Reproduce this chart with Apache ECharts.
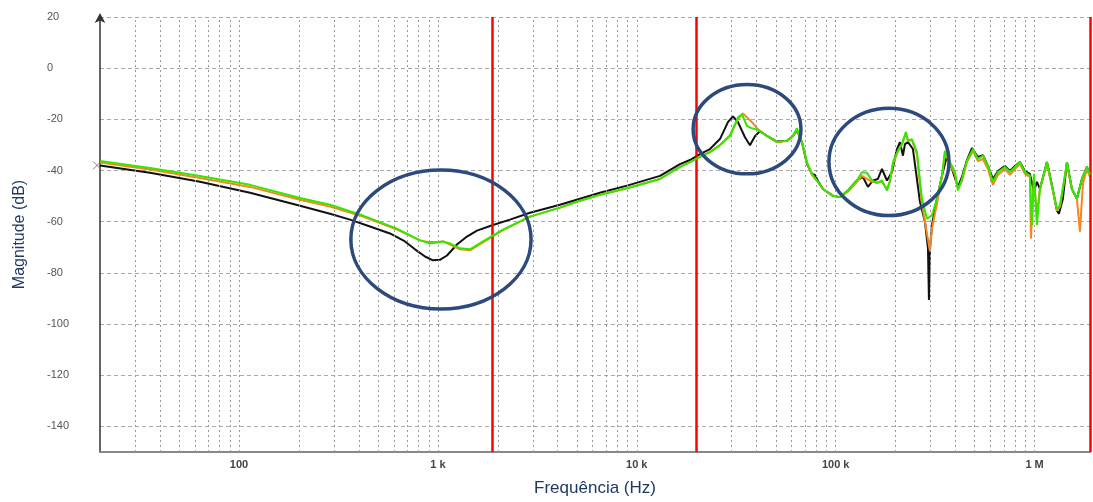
<!DOCTYPE html>
<html>
<head>
<meta charset="utf-8">
<script src="https://cdn.jsdelivr.net/npm/echarts@6/dist/echarts.min.js"></script>
<style>html,body{margin:0;padding:0;background:#fff;}#c{width:1093px;height:502px;}</style>
</head>
<body>
<div id="c"></div>
<script>
// ---- data (frequency in Hz, magnitude in dB) ----
const blackFreq = [20,35.7,63.6,113.6,202.6,286.7,361.4,455.5,574.2,683.2,766.9,861,944.6,1024,1111,1247,1400,1572,1892,2303,2904,4110,5180,6530,9030,13080,16490,18510,20780,23330,26190,28730,30440,32270,34990,37070,39280,41630,45120,50670,56890,60990,63880,67690,71720,76000,78680,81460,86300,96900,105100,115300,127900,137100,145300,153900,163100,170900,181100,191900,203300,210400,217900,223000,230900,244600,265300,281100,291100,294400,297900,304800,323000,342200,362600,384300,411900,431400,457100,484300,519200,550100,582900,617500,654600,710000,752000,796900,844300,894400,948000,992900,1027800,1064000,1154000,1223000,1296000,1326000,1388000,1455000,1541000,1633000,1731000,1834000,1899000];
const blackDb = [-38.0,-40.9,-44.4,-48.7,-53.8,-56.9,-59.2,-61.9,-64.6,-67.7,-70.8,-73.6,-75.1,-74.9,-73.2,-68.9,-65.8,-63.5,-61.3,-59.2,-56.5,-53.4,-51.0,-48.7,-45.8,-42.1,-37.5,-35.9,-33.6,-31.6,-27.7,-21.1,-18.8,-21.1,-27.0,-30.1,-26.6,-24.6,-26.5,-28.7,-28.4,-26.5,-24.3,-28.9,-37.5,-41.3,-41.7,-44.1,-47.2,-49.9,-50.4,-47.8,-43.9,-42.5,-46.4,-43.9,-43.3,-39.4,-43.9,-40.6,-31.6,-28.9,-34.2,-29.7,-28.9,-31.6,-52.2,-60.0,-70.4,-90.6,-70.4,-61.4,-51.0,-42.1,-34.3,-39.4,-46.4,-42.5,-35.9,-31.2,-34.7,-34.0,-38.2,-43.3,-40.2,-38.2,-40.2,-38.2,-36.7,-40.2,-41.3,-48.3,-44.4,-47.2,-36.7,-45.6,-55.7,-56.9,-51.0,-36.7,-47.2,-51.0,-43.3,-38.6,-41.7];

const orangeFreq = [20,35.7,63.6,113.6,202.6,286.7,420.1,622.8,812.5,891.5,989.4,1060,1150,1291,1450,1685,2124,2904,4110,5180,6530,9030,13080,16490,18510,20780,23330,26190,29400,32270,34190,37940,40670,45120,50670,56890,60990,63880,67690,71720,76000,80530,86300,96900,105100,115300,127900,135600,143700,152200,161300,170900,181100,187500,194100,205600,215400,225600,230900,241800,256200,271500,287700,297900,304800,323000,342200,354300,375500,397800,411900,431400,457100,490000,519200,550100,582900,617500,654600,710000,752000,796900,844300,894400,948000,959000,992900,1027800,1064000,1154000,1223000,1296000,1342000,1455000,1541000,1633000,1691000,1751000,1834000,1899000];
const orangeDb = [-36.9,-39.6,-42.9,-46.4,-51.4,-54.1,-58.0,-63.1,-67.3,-67.9,-67.9,-67.7,-68.9,-70.8,-71.2,-68.1,-63.3,-58.0,-54.5,-51.8,-49.5,-46.8,-43.3,-38.6,-36.7,-34.7,-32.8,-30.1,-26.2,-20.0,-17.7,-21.1,-23.9,-26.6,-28.9,-28.5,-26.6,-23.9,-28.9,-37.1,-41.7,-44.1,-47.2,-49.9,-50.4,-48.3,-44.4,-42.1,-43.3,-44.4,-44.8,-44.4,-47.2,-44.4,-37.5,-32.4,-29.7,-25.4,-28.4,-28.1,-33.6,-53.0,-64.6,-71.6,-62.7,-53.0,-42.5,-33.2,-37.5,-41.7,-47.2,-44.1,-36.7,-32.4,-36.3,-35.5,-39.4,-45.6,-41.7,-39.4,-41.7,-39.4,-37.5,-41.3,-42.5,-66.6,-43.3,-56.9,-47.2,-37.5,-46.4,-55.7,-54.1,-37.5,-47.2,-51.0,-63.9,-45.2,-39.4,-42.5];

const greenFreq = [20,35.7,63.6,113.6,202.6,286.7,420.1,622.8,812.5,912.4,989.4,1060,1150,1291,1450,1685,2124,2904,4110,5180,6530,9030,13080,16490,18510,20780,23330,26190,29400,32270,33800,35810,37940,40670,45120,50670,56890,60990,63880,67690,71720,76000,80530,86300,96900,105100,115300,127900,135600,143700,152200,161300,170900,181100,187500,194100,205600,215400,225600,230900,241800,256200,271500,287700,304800,323000,342200,354300,375500,397800,411900,431400,457100,490000,519200,550100,582900,617500,654600,710000,752000,796900,844300,894400,948000,970100,992900,1027800,1064000,1154000,1223000,1296000,1342000,1455000,1541000,1633000,1731000,1834000,1899000];
const greenDb = [-36.3,-39.0,-42.1,-45.6,-50.7,-53.4,-57.6,-62.7,-67.3,-68.5,-68.1,-67.7,-68.5,-70.4,-70.8,-67.7,-63.1,-58.0,-54.5,-51.8,-49.5,-46.8,-43.3,-38.6,-36.7,-34.7,-32.8,-30.1,-26.5,-19.2,-18.0,-22.6,-23.5,-24.1,-26.5,-28.8,-28.4,-26.5,-23.5,-28.9,-36.7,-41.3,-43.9,-47.2,-49.9,-50.4,-47.8,-43.9,-40.7,-40.9,-43.9,-44.8,-43.9,-47.8,-43.9,-36.7,-32.3,-29.7,-24.9,-28.4,-27.7,-32.8,-51.0,-58.8,-57.5,-51.0,-42.0,-32.3,-36.7,-40.6,-47.8,-43.3,-36.2,-31.6,-35.5,-34.2,-38.1,-44.4,-40.6,-38.6,-40.6,-38.6,-36.7,-40.6,-42.0,-61.4,-41.3,-61.4,-47.2,-36.7,-45.9,-54.9,-53.6,-36.7,-47.2,-51.0,-43.3,-38.6,-41.7];

// axis
const freqMin = 20, freqMax = 1900000;
const dbMin = -150, dbMax = 20, dbStep = 20;
const tickLabels = {2: '100', 3: '1 k', 4: '10 k', 5: '100 k', 6: '1 M'};
// red marker lines (Hz)
const redLines = [1880, 19800, 1900000];
// highlighted regions: [fLow, fHigh, dbTop, dbBottom]
const regions = [
  [365, 2940, -39.8, -94.1],
  [19200, 66900, -6.4, -41.3],
  [92500, 371200, -15.7, -57.6]
];
const axisNameColor = '#1f3864';

const zip = (f, d) => f.map((v, i) => [v, d[i]]);

// minor log grid positions
const gridVals = [];
for (let k = 1; k <= 6; k++) {
  for (let m = 1; m <= 9; m++) {
    const v = m * Math.pow(10, k);
    if (v > freqMin * 1.01 && v < freqMax * 0.99) gridVals.push(v);
  }
}

const chart = echarts.init(document.getElementById('c'), null, {renderer: 'canvas'});
const font = 'Liberation Sans, Arial, sans-serif';
chart.setOption({
  animation: false,
  backgroundColor: '#fff',
  grid: {left: 100, right: 3, top: 17, bottom: 47, containLabel: false},
  xAxis: {
    type: 'log', logBase: 10, min: freqMin, max: freqMax,
    name: 'Frequência (Hz)', nameLocation: 'middle', nameGap: 28,
    nameTextStyle: {color: axisNameColor, fontSize: 17, fontFamily: font},
    axisLine: {show: true, onZero: false, lineStyle: {color: '#888', width: 2}},
    axisTick: {show: false},
    splitLine: {show: false},
    axisLabel: {
      showMinLabel: false, showMaxLabel: false, margin: 7,
      color: '#444', fontSize: 11, fontWeight: 'bold', fontFamily: font,
      formatter: function (v) {
        const l = Math.log10(v); const r = Math.round(l);
        if (Math.abs(l - r) < 1e-6 && tickLabels[r]) return tickLabels[r];
        return '';
      }
    }
  },
  yAxis: {
    type: 'value', min: dbMin, max: dbMax, splitNumber: 8, minInterval: dbStep, maxInterval: dbStep,
    name: 'Magnitude (dB)', nameLocation: 'middle', nameGap: 72, nameRotate: 90,
    nameTextStyle: {color: axisNameColor, fontSize: 16, fontFamily: font},
    axisLine: {show: true, onZero: false, symbol: ['none', 'arrow'], symbolSize: [8, 10], symbolOffset: [0, 4], lineStyle: {color: '#333', width: 1.5}},
    axisTick: {show: false},
    axisLabel: {showMinLabel: false, align: 'left', margin: 53, color: '#555', fontSize: 11, fontFamily: font},
    splitLine: {show: true, lineStyle: {color: '#aaa', type: [4, 3], width: 1}}
  },
  series: [
    {
      type: 'line', name: 'grid', data: [], silent: true, z: 1,
      markLine: {
        silent: true, symbol: ['none', 'none'], label: {show: false},
        lineStyle: {color: '#999', type: [2, 3], width: 1},
        data: gridVals.map(v => ({xAxis: v}))
      }
    },
    {type: 'line', name: 'black', data: zip(blackFreq, blackDb), symbol: 'none', lineStyle: {color: '#111', width: 2}, itemStyle: {color: '#111'}, z: 3},
    {type: 'line', name: 'orange', data: zip(orangeFreq, orangeDb), symbol: 'none', lineStyle: {color: '#f7861e', width: 2}, itemStyle: {color: '#f7861e'}, z: 4},
    {type: 'line', name: 'green', data: zip(greenFreq, greenDb), symbol: 'none', lineStyle: {color: '#33e800', width: 2}, itemStyle: {color: '#33e800'}, z: 5},
    {
      type: 'scatter', name: 'start', data: [[freqMin, blackDb[0]]], z: 6,
      symbol: 'path://M0,0L10,10M10,0L0,10', symbolSize: 8, symbolOffset: [-3, 0],
      itemStyle: {color: 'none', borderColor: '#666', borderWidth: 1}
    },
    {
      type: 'line', name: 'red', data: [], silent: true, z: 7,
      markLine: {
        silent: true, symbol: ['none', 'none'], label: {show: false},
        lineStyle: {color: '#ff0000', type: 'solid', width: 2.5},
        data: redLines.map(v => ({xAxis: v}))
      }
    }
  ]
});

// ellipse annotations
const g = regions.map(r => {
  const p1 = chart.convertToPixel({gridIndex: 0}, [r[0], r[2]]);
  const p2 = chart.convertToPixel({gridIndex: 0}, [r[1], r[3]]);
  return {
    type: 'ellipse', z: 100,
    shape: {cx: (p1[0] + p2[0]) / 2, cy: (p1[1] + p2[1]) / 2, rx: Math.abs(p2[0] - p1[0]) / 2, ry: Math.abs(p2[1] - p1[1]) / 2},
    style: {fill: 'none', stroke: '#2c4a7c', lineWidth: 3.5}
  };
});
chart.setOption({graphic: g});
</script>
</body>
</html>
